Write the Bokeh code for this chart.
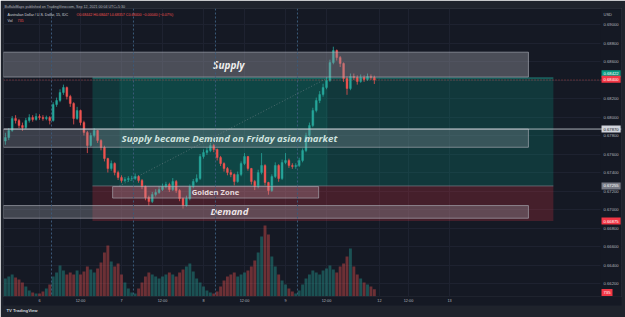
from bokeh.plotting import figure
from bokeh.models import (Range1d, FixedTicker, NumeralTickFormatter, ColumnDataSource,
                          Span, Label, Title)
from bokeh.embed import file_html
from bokeh.resources import INLINE
from bokeh.core.properties import value

# ---------------- data ----------------
hours = list(range(-10, 99))  # hours since Sep 6 00:00 (hourly candles)
first_open = 0.67740
closes = [
    0.67778, 0.67854, 0.67984, 0.67962, 0.67908, 0.67886, 0.67962, 0.67995, 0.67973, 0.68005,
    0.67995, 0.67984, 0.67995, 0.67962, 0.68135, 0.68178, 0.68265, 0.68319, 0.68222, 0.68146,
    0.67984, 0.68070, 0.67941, 0.67832, 0.67692, 0.67800, 0.67854, 0.67746, 0.67670, 0.67551,
    0.67443, 0.67497, 0.67400, 0.67346, 0.67314, 0.67324, 0.67335, 0.67335, 0.67357, 0.67314,
    0.67249, 0.67130, 0.67086, 0.67162, 0.67184, 0.67216, 0.67249, 0.67270, 0.67216, 0.67303,
    0.67205, 0.67119, 0.67043, 0.67119, 0.67249, 0.67303, 0.67335, 0.67573, 0.67616, 0.67638,
    0.67692, 0.67649, 0.67562, 0.67497, 0.67443, 0.67400, 0.67378, 0.67303, 0.67378, 0.67497,
    0.67573, 0.67443, 0.67303, 0.67249, 0.67400, 0.67476, 0.67292, 0.67205, 0.67357, 0.67476,
    0.67335, 0.67508, 0.67530, 0.67476, 0.67465, 0.67476, 0.67530, 0.67638, 0.67800, 0.67908,
    0.68070, 0.68178, 0.68243, 0.68319, 0.68395, 0.68589, 0.68719, 0.68643, 0.68578, 0.68416,
    0.68308, 0.68438, 0.68427, 0.68384, 0.68427, 0.68405, 0.68438, 0.68427, 0.68400]
highs = [
    0.67830, 0.67880, 0.68010, 0.68020, 0.67980, 0.67940, 0.67990, 0.68030, 0.68020, 0.68040,
    0.68030, 0.68020, 0.68015, 0.68010, 0.68160, 0.68210, 0.68300, 0.68350, 0.68330, 0.68240,
    0.68160, 0.68110, 0.68080, 0.67960, 0.67850, 0.67830, 0.67880, 0.67860, 0.67760, 0.67690,
    0.67560, 0.67530, 0.67510, 0.67420, 0.67370, 0.67350, 0.67360, 0.67365, 0.67390, 0.67370,
    0.67330, 0.67260, 0.67150, 0.67190, 0.67220, 0.67250, 0.67280, 0.67300, 0.67290, 0.67340,
    0.67320, 0.67220, 0.67130, 0.67150, 0.67270, 0.67330, 0.67380, 0.67600, 0.67650, 0.67670,
    0.67720, 0.67710, 0.67660, 0.67580, 0.67510, 0.67460, 0.67430, 0.67390, 0.67410, 0.67520,
    0.67610, 0.67580, 0.67450, 0.67320, 0.67430, 0.67610, 0.67490, 0.67300, 0.67380, 0.67510,
    0.67490, 0.67540, 0.67610, 0.67550, 0.67500, 0.67500, 0.67560, 0.67660, 0.67830, 0.67940,
    0.68100, 0.68210, 0.68280, 0.68360, 0.68430, 0.68620, 0.68760, 0.68730, 0.68660, 0.68590,
    0.68440, 0.68470, 0.68470, 0.68450, 0.68460, 0.68450, 0.68470, 0.68460, 0.68447]
lows = [
    0.67700, 0.67750, 0.67840, 0.67930, 0.67880, 0.67850, 0.67870, 0.67940, 0.67950, 0.67960,
    0.67970, 0.67960, 0.67965, 0.67920, 0.67950, 0.68110, 0.68160, 0.68240, 0.68190, 0.68110,
    0.67920, 0.67970, 0.67910, 0.67800, 0.67610, 0.67680, 0.67780, 0.67720, 0.67640, 0.67520,
    0.67400, 0.67420, 0.67370, 0.67320, 0.67290, 0.67295, 0.67300, 0.67310, 0.67320, 0.67290,
    0.67220, 0.67100, 0.67040, 0.67070, 0.67140, 0.67170, 0.67200, 0.67230, 0.67190, 0.67200,
    0.67180, 0.67090, 0.67010, 0.67030, 0.67100, 0.67230, 0.67290, 0.67320, 0.67550, 0.67590,
    0.67620, 0.67620, 0.67530, 0.67470, 0.67410, 0.67370, 0.67350, 0.67260, 0.67290, 0.67360,
    0.67480, 0.67420, 0.67270, 0.67210, 0.67230, 0.67380, 0.67260, 0.67160, 0.67190, 0.67340,
    0.67300, 0.67320, 0.67490, 0.67450, 0.67440, 0.67440, 0.67460, 0.67510, 0.67620, 0.67780,
    0.67890, 0.68050, 0.68150, 0.68220, 0.68300, 0.68380, 0.68570, 0.68610, 0.68540, 0.68380,
    0.68240, 0.68290, 0.68400, 0.68350, 0.68370, 0.68380, 0.68390, 0.68400, 0.68357]
volumes = [
    1800, 2000, 2200, 1900, 1700, 1400, 1000, 600, 400, 300,
    300, 500, 800, 1200, 2000, 2400, 3100, 2600, 2200, 2400,
    2200, 2600, 2200, 2500, 3000, 2700, 2400, 2800, 3400, 4400,
    5100, 3500, 3000, 3300, 2200, 1400, 800, 400, 300, 800,
    1400, 2000, 2400, 2200, 2000, 1800, 2000, 2200, 2400, 2200,
    2000, 2400, 2700, 3000, 3300, 2500, 1800, 1400, 1000, 600,
    400, 300, 500, 1000, 1600, 2000, 2200, 2400, 2000, 2200,
    2400, 2600, 3000, 3600, 4400, 6000, 7100, 6200, 4000, 3000,
    2200, 1600, 1200, 800, 500, 300, 600, 1200, 1800, 2200,
    2600, 2400, 2200, 2600, 2800, 3100, 2700, 2400, 3000, 3300,
    4000, 4800, 3000, 2200, 1800, 1400, 1200, 1000, 735]
opens = [first_open] + closes[:-1]

price_ticks = [0.662, 0.664, 0.666, 0.668, 0.670, 0.672, 0.674, 0.676, 0.678,
               0.680, 0.682, 0.684, 0.686, 0.688, 0.690]
time_ticks = [0, 12, 24, 36, 48, 60, 72, 84, 99.5, 108, 120]
time_labels = ["6", "12:00", "7", "12:00", "8", "12:00", "9", "12:00", "12", "12:00", "13"]
session_breaks = [3.5, 27.5, 51.5, 75.5]

# zones (drawn boxes)
zone_text = ["Supply", "Supply became Demand on Friday asian market", "Golden Zone", "Demand"]
zone_left = [-10.6, -10.6, 21.4, -10.6]
zone_right = [143.1, 143.1, 81.7, 143.1]
zone_bottom = [0.68432, 0.67673, 0.67124, 0.66906]
zone_top = [0.68701, 0.67870, 0.67248, 0.67043]
zone_text_x = [55.4, 55.6, 51.5, 55.6]

# long-position tools
pos_left = [15.5, 23.4]
pos_right = [150.4, 84.3]
pos_entry = [0.67255, 0.67255]
pos_target = [0.68422, 0.68422]
pos_stop = 0.66875
last_price = 0.68400
line_level = 0.67870
last_volume = 735

X0, X1 = -10.54, 170.34   # frame spans chart pane + price-scale strip
XS = 164.2                # where the price-scale strip begins
Y0, Y1 = 0.66060, 0.69173

PANE = "#151924"
EDGE = "#1f232c"
UP = "#26a69a"
DOWN = "#ef5350"

# ---------------- figure ----------------
p = figure(width=625, height=317, x_range=Range1d(X0, X1), y_range=Range1d(Y0, Y1),
           output_backend="svg", toolbar_location=None, y_axis_location="right",
           min_border_left=3, min_border_right=4, min_border_top=8, min_border_bottom=21,
           background_fill_color=PANE, border_fill_color=EDGE, outline_line_color="#2a2e39")
p.extra_y_ranges = {"vol": Range1d(0, 28800)}

p.title.text = "BuffaloMaps published on TradingView.com, Sep 12, 2021 00:04 UTC+5:30"
p.title.text_font_size = "3.6px"
p.title.text_font_style = "normal"
p.title.text_color = "#b2b5be"
p.title.align = "left"
p.title.offset = 1
p.title.standoff = 0

yax = p.yaxis[0]
yax.ticker = FixedTicker(ticks=price_ticks)
yax.formatter = NumeralTickFormatter(format="0.00000")
yax.major_label_text_font_size = "4.2px"
yax.major_label_text_color = "#b2b5be"
yax.major_tick_line_color = None
yax.major_tick_out = 0
yax.major_tick_in = 0
yax.minor_tick_line_color = None
yax.axis_line_color = None
yax.major_label_standoff = -18

xax = p.xaxis[0]
xax.ticker = FixedTicker(ticks=time_ticks)
xax.major_label_overrides = {t: l for t, l in zip(time_ticks, time_labels)}
xax.major_label_text_font_size = "3.8px"
xax.major_label_text_color = "#b2b5be"
xax.major_tick_line_color = None
xax.major_tick_out = 0
xax.major_tick_in = 0
xax.minor_tick_line_color = None
xax.axis_line_color = None
xax.major_label_standoff = 2

for ax in (xax, yax):
    try:
        ax.background_fill_color = PANE
    except Exception:
        pass

p.xgrid.grid_line_color = "#1e2230"
p.ygrid.grid_line_color = "#1e2230"

# price-scale strip covers grid lines
p.quad(left=[XS], right=[X1], bottom=[Y0], top=[Y1], fill_color=PANE, line_color=None)

# position tool zones
p.quad(left=[pos_left[0]], right=[pos_right[0]], bottom=[pos_entry[0]], top=[pos_target[0]],
       fill_color="#089981", fill_alpha=0.25, line_color=None)
p.quad(left=[pos_left[1]], right=[pos_right[1]], bottom=[pos_entry[1]], top=[pos_target[1]],
       fill_color="#089981", fill_alpha=0.15, line_color=None)
p.quad(left=[pos_left[0]], right=[pos_right[0]], bottom=[pos_stop], top=[pos_entry[0]],
       fill_color="#f23645", fill_alpha=0.22, line_color=None)
p.segment(x0=[pos_left[0]], x1=[pos_right[0]], y0=[pos_target[0]], y1=[pos_target[0]],
          line_color=UP, line_alpha=0.7, line_width=1)
p.segment(x0=[pos_left[0]], x1=[pos_right[0]], y0=[pos_entry[0]], y1=[pos_entry[0]],
          line_color="#787b86", line_alpha=0.7, line_width=1)

# session breaks
for sb in session_breaks:
    p.add_layout(Span(location=sb, dimension="height", line_color="#3c5a7a",
                      line_dash="2 2", line_width=1))

# candles
up = [c >= o for o, c in zip(opens, closes)]
src = ColumnDataSource(dict(
    x=hours, o=opens, c=closes, h=highs, l=lows, v=volumes,
    top=[max(o, c) for o, c in zip(opens, closes)],
    bot=[min(o, c) for o, c in zip(opens, closes)],
    col=[UP if u else DOWN for u in up]))
p.vbar(x="x", width=0.85, top="v", bottom=0, source=src, y_range_name="vol",
       fill_color="col", line_color=None, fill_alpha=0.4)
p.segment(x0="x", x1="x", y0="l", y1="h", source=src, line_color="col", line_width=0.8)
p.vbar(x="x", width=0.55, top="top", bottom="bot", source=src,
       fill_color="col", line_color="col", line_width=0.4)

# trend (position) dotted line
p.line(x=[pos_left[1], pos_right[1]], y=[pos_entry[1], pos_target[1]],
       line_color="#9598a1", line_alpha=0.6, line_dash="1 2", line_width=0.8)

# price lines
p.add_layout(Span(location=last_price, dimension="width", line_color=DOWN,
                  line_dash="1 2", line_width=0.8, line_alpha=0.8))
p.add_layout(Span(location=line_level, dimension="width", line_color="#d1d4dc",
                  line_width=1, line_alpha=0.8))

# drawn boxes
box_fill = ["#9598a1", "#9598a1", "#c59aa6", "#9598a1"]
box_alpha = [0.42, 0.3, 0.3, 0.35]
for i in range(len(zone_text)):
    p.quad(left=[zone_left[i]], right=[zone_right[i]], bottom=[zone_bottom[i]], top=[zone_top[i]],
           fill_color=box_fill[i], fill_alpha=box_alpha[i], line_color="#b2b5be",
           line_alpha=0.6, line_width=1)

zone_mid = [(b + t) / 2 for b, t in zip(zone_bottom, zone_top)]
txt_col = ["#eeeeee", "#cfe3df", "#e6dadd", "#ece4e6"]
txt_size = ["10px", "9.6px", "7.6px", "9.6px"]
txt_style = ["bold italic", "bold italic", "bold", "bold italic"]
for i in range(len(zone_text)):
    p.text(x=[zone_text_x[i]], y=[zone_mid[i]], text=[zone_text[i]],
           text_font=value("Open Sans"), text_font_size=txt_size[i],
           text_font_style=txt_style[i], text_color=txt_col[i],
           text_align="center", text_baseline="middle")

# legend texts (top-left)
p.add_layout(Label(x=X0, y=0.69108, x_offset=4, text="Australian Dollar / U.S. Dollar, 15, IDC",
                   text_font_size="3.6px", text_color="#d1d4dc", text_baseline="middle"))
p.add_layout(Label(x=X0, y=0.69108, x_offset=73,
                   text="O0.68442  H0.68447  L0.68357  C0.68400  \u22120.00040 (\u22120.07%)",
                   text_font_size="3.6px", text_color=DOWN, text_baseline="middle"))
p.add_layout(Label(x=X0, y=0.69043, x_offset=4, text="Vol", text_font_size="3.6px",
                   text_color="#d1d4dc", text_baseline="middle"))
p.add_layout(Label(x=X0, y=0.69043, x_offset=14, text=str(last_volume), text_font_size="3.6px",
                   text_color=DOWN, text_baseline="middle"))

# price-scale tags
p.add_layout(Label(x=XS, y=0.69108, x_offset=3, text="USD", text_font_size="4px",
                   text_color="#b2b5be", text_baseline="middle"))
tags = [(pos_target[0], 0.68468, "#089981", "#ffffff"),
        (last_price, 0.68408, "#f23645", "#ffffff"),
        (line_level, line_level, "#d1d4dc", "#131722"),
        (pos_entry[0], pos_entry[0], "#787b86", "#ffffff"),
        (pos_stop, pos_stop, "#f23645", "#ffffff")]
for val, ypos, bg, fg in tags:
    lab = Label(x=XS, y=ypos, x_offset=1, text="%.5f" % val, text_font_size="4.2px",
                text_color=fg, text_baseline="middle", background_fill_color=bg)
    try:
        lab.padding = 2
    except Exception:
        pass
    p.add_layout(lab)
vlab = Label(x=XS, y=400, y_range_name="vol", x_offset=1, text=str(last_volume),
             text_font_size="4.2px", text_color="#ffffff", text_baseline="middle",
             background_fill_color="#f23645")
try:
    vlab.padding = 2
except Exception:
    pass
p.add_layout(vlab)

# footer
p.add_layout(Title(text="TV TradingView", align="left", text_font_size="4.2px",
                   text_color="#d1d4dc", offset=3, standoff=0), "below")

open("out.html", "w").write(file_html(p, INLINE))
